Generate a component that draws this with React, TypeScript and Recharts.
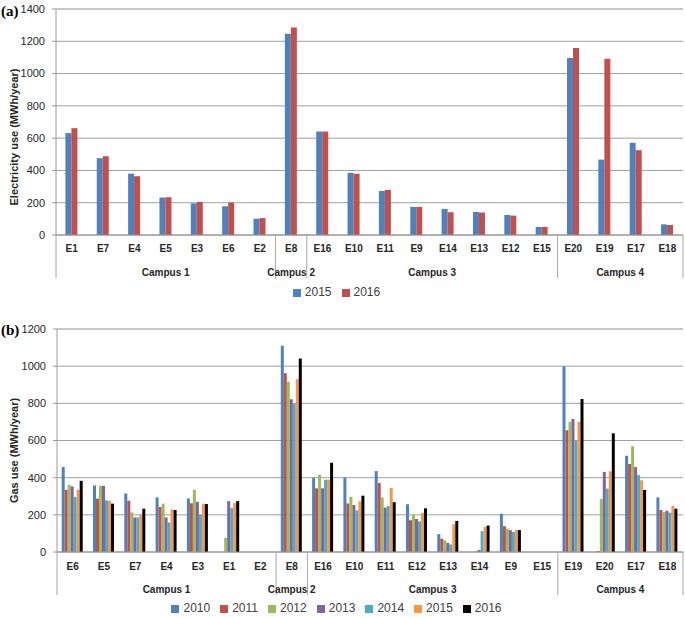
import { BarChart, Bar, XAxis, YAxis, CartesianGrid, Legend } from 'recharts'

// (a) electricity, 2015 vs 2016
const elecCategories = ['E1', 'E7', 'E4', 'E5', 'E3', 'E6', 'E2', 'E8', 'E16', 'E10', 'E11', 'E9', 'E14', 'E13', 'E12', 'E15', 'E20', 'E19', 'E17', 'E18']
const elec2015 = [631, 476, 380, 232, 196, 178, 101, 1247, 641, 385, 273, 174, 161, 143, 124, 50, 1096, 467, 571, 66]
const elec2016 = [662, 488, 364, 234, 205, 201, 105, 1286, 641, 379, 279, 174, 141, 139, 120, 50, 1158, 1092, 525, 62]
const elecYears = ['2015', '2016']
const elecTicks = [0, 200, 400, 600, 800, 1000, 1200, 1400]
const elecMinorTicks = [40, 80, 120, 160, 240, 280, 320, 360, 440, 480, 520, 560, 640, 680, 720, 760, 840, 880, 920, 960, 1040, 1080, 1120, 1160, 1240, 1280, 1320, 1360]

// (b) gas, 2010 - 2016
const gasCategories = ['E6', 'E5', 'E7', 'E4', 'E3', 'E1', 'E2', 'E8', 'E16', 'E10', 'E11', 'E12', 'E13', 'E14', 'E9', 'E15', 'E19', 'E20', 'E17', 'E18']
const gas2010 = [457, 358, 315, 294, 288, 0, 0, 1110, 398, 401, 435, 257, 96, 0, 206, 0, 999, 0, 518, 294]
const gas2011 = [335, 287, 276, 242, 262, 0, 0, 962, 343, 261, 371, 171, 72, 0, 139, 0, 655, 5, 474, 226]
const gas2012 = [362, 356, 213, 260, 335, 77, 0, 917, 416, 297, 294, 201, 62, 6, 126, 0, 701, 285, 569, 215]
const gas2013 = [353, 356, 186, 186, 270, 274, 0, 822, 343, 253, 239, 178, 49, 11, 117, 0, 716, 431, 457, 222]
const gas2014 = [296, 278, 186, 159, 201, 236, 0, 799, 389, 224, 248, 165, 41, 112, 108, 0, 601, 341, 414, 212]
const gas2015 = [335, 276, 199, 229, 260, 263, 0, 930, 389, 273, 344, 210, 149, 135, 118, 0, 701, 434, 386, 248]
const gas2016 = [383, 260, 233, 226, 258, 274, 0, 1041, 480, 303, 268, 235, 167, 142, 118, 0, 823, 639, 334, 233]
const gasYears = ['2010', '2011', '2012', '2013', '2014', '2015', '2016']
const gasTicks = [0, 200, 400, 600, 800, 1000, 1200]
const gasMinorTicks = [40, 80, 120, 160, 240, 280, 320, 360, 440, 480, 520, 560, 640, 680, 720, 760, 840, 880, 920, 960, 1040, 1080, 1120, 1160]

const campusNames = ['Campus 1', 'Campus 2', 'Campus 3', 'Campus 4']
const campusSizes = [7, 1, 8, 4]

const yearColors: Record<string, string> = {
    '2010': '#4F81BD',
    '2011': '#C0504D',
    '2012': '#9BBB59',
    '2013': '#8064A2',
    '2014': '#4BACC6',
    '2015': '#F79646',
    '2016': '#000000',
}
const elecColors: Record<string, string> = { '2015': '#4F81BD', '2016': '#C0504D' }

const font = '"Liberation Sans", Arial, sans-serif'
const textColor = '#262626'

const elecRows = elecCategories.map((name, i) => ({ name, y2015: elec2015[i], y2016: elec2016[i] }))
const gasSeries = [gas2010, gas2011, gas2012, gas2013, gas2014, gas2015, gas2016]
const gasRows = gasCategories.map((name, i) => {
    const row: Record<string, string | number> = { name }
    gasYears.forEach((y, k) => { row['y' + y] = gasSeries[k][i] })
    return row
})

// index of the first category of each campus group
const campusStarts = campusSizes.map((_, g) => campusSizes.slice(0, g).reduce((a, b) => a + b, 0))
const totalCategories = campusSizes.reduce((a, b) => a + b, 0)

// second category axis: separators at group edges, campus name at group centre
function CampusTick(props: any) {
    const { x, y, payload, index } = props
    const half = payload.offset || 0
    const g = campusStarts.indexOf(index)
    const lineProps = { y1: y - 22, y2: y + 21, stroke: '#a6a6a6' }
    return (
        <g>
            {g >= 0 && <line x1={x - half} x2={x - half} {...lineProps} />}
            {index === totalCategories - 1 && <line x1={x + half} x2={x + half} {...lineProps} />}
            {g >= 0 && (
                <text x={x - half + campusSizes[g] * half} y={y + 19} textAnchor="middle" fontSize={10}
                    fontWeight="bold" fill={textColor} fontFamily={font}>
                    {campusNames[g]}
                </text>
            )}
        </g>
    )
}

function yTitle(text: string, shift: number) {
    return (props: any) => {
        const vb = props.viewBox
        const cy = vb.y + vb.height / 2 + shift
        return (
            <text x={14} y={cy} transform={`rotate(-90 14 ${cy})`} textAnchor="middle" dominantBaseline="central"
                fontSize={11} fontWeight="bold" fill={textColor} fontFamily={font}>
                {text}
            </text>
        )
    }
}

const legendText = (v: string) => <span style={{ color: '#404040' }}>{v}</span>

function PanelLetter({ text, top }: { text: string; top: number }) {
    return (
        <div style={{ position: 'absolute', left: 1, top, fontFamily: '"Liberation Serif", serif', fontWeight: 'bold', fontSize: 15, lineHeight: 1 }}>
            {text}
        </div>
    )
}

export default function App() {
    return (
        <div style={{ position: 'absolute', left: 0, top: 0, width: 685, height: 618, background: '#fff', fontFamily: font }}>
            <PanelLetter text="(a)" top={4} />
            <PanelLetter text="(b)" top={323} />

            <div style={{ position: 'absolute', left: 0, top: 0 }}>
                <BarChart width={685} height={305} data={elecRows} margin={{ top: 9, right: 2, bottom: 0, left: 0 }}
                    barCategoryGap="30%" barGap={0}>
                    <YAxis yAxisId="minor" hide domain={[0, 1400]} ticks={elecMinorTicks} />
                    <CartesianGrid yAxisId="minor" vertical={false} stroke="#dcdcdc" />
                    <CartesianGrid vertical={false} stroke="#a0a0a0" />
                    <XAxis dataKey="name" height={22} tickLine={false} tickSize={6} tickMargin={4} interval={0}
                        axisLine={{ stroke: '#9a9a9a' }}
                        tick={{ fontSize: 10, fontWeight: 'bold', fill: textColor, fontFamily: font }} />
                    <XAxis xAxisId="campus" dataKey="name" interval={0} height={28} axisLine={false} tickLine={false}
                        tickSize={0} tickMargin={0} tick={CampusTick} />
                    <YAxis width={56} domain={[0, 1400]} ticks={elecTicks} tickSize={4} tickMargin={7}
                        axisLine={{ stroke: '#9a9a9a' }} tickLine={{ stroke: '#9a9a9a' }}
                        tick={{ fontSize: 11, fill: textColor, fontFamily: font }}
                        label={{ content: yTitle('Electricity use (MWh/year)', 15) }} />
                    <Legend verticalAlign="bottom" height={20} iconType="square" iconSize={8}
                        wrapperStyle={{ fontSize: 12, fontFamily: font }} formatter={legendText} />
                    {elecYears.map(y => (
                        <Bar key={y} dataKey={'y' + y} name={y} fill={elecColors[y]} isAnimationActive={false} />
                    ))}
                </BarChart>
            </div>

            <div style={{ position: 'absolute', left: 0, top: 315 }}>
                <BarChart width={685} height={303} data={gasRows} margin={{ top: 14, right: 2, bottom: 0, left: 0 }}
                    barCategoryGap="15%" barGap={0}>
                    <YAxis yAxisId="minor" hide domain={[0, 1200]} ticks={gasMinorTicks} />
                    <CartesianGrid yAxisId="minor" vertical={false} stroke="#dcdcdc" />
                    <CartesianGrid vertical={false} stroke="#a0a0a0" />
                    <XAxis dataKey="name" height={22} tickLine={false} tickSize={6} tickMargin={5} interval={0}
                        axisLine={{ stroke: '#9a9a9a' }}
                        tick={{ fontSize: 10, fontWeight: 'bold', fill: textColor, fontFamily: font }} />
                    <XAxis xAxisId="campus" dataKey="name" interval={0} height={27} axisLine={false} tickLine={false}
                        tickSize={0} tickMargin={0} tick={CampusTick} />
                    <YAxis width={57} domain={[0, 1200]} ticks={gasTicks} tickSize={4} tickMargin={7}
                        axisLine={{ stroke: '#9a9a9a' }} tickLine={{ stroke: '#9a9a9a' }}
                        tick={{ fontSize: 11, fill: textColor, fontFamily: font }}
                        label={{ content: yTitle('Gas use (MWh/year)', 10) }} />
                    <Legend verticalAlign="bottom" height={17} iconType="square" iconSize={8}
                        wrapperStyle={{ fontSize: 12, fontFamily: font }} formatter={legendText} />
                    {gasYears.map(y => (
                        <Bar key={y} dataKey={'y' + y} name={y} fill={yearColors[y]} isAnimationActive={false} />
                    ))}
                </BarChart>
            </div>
        </div>
    )
}
